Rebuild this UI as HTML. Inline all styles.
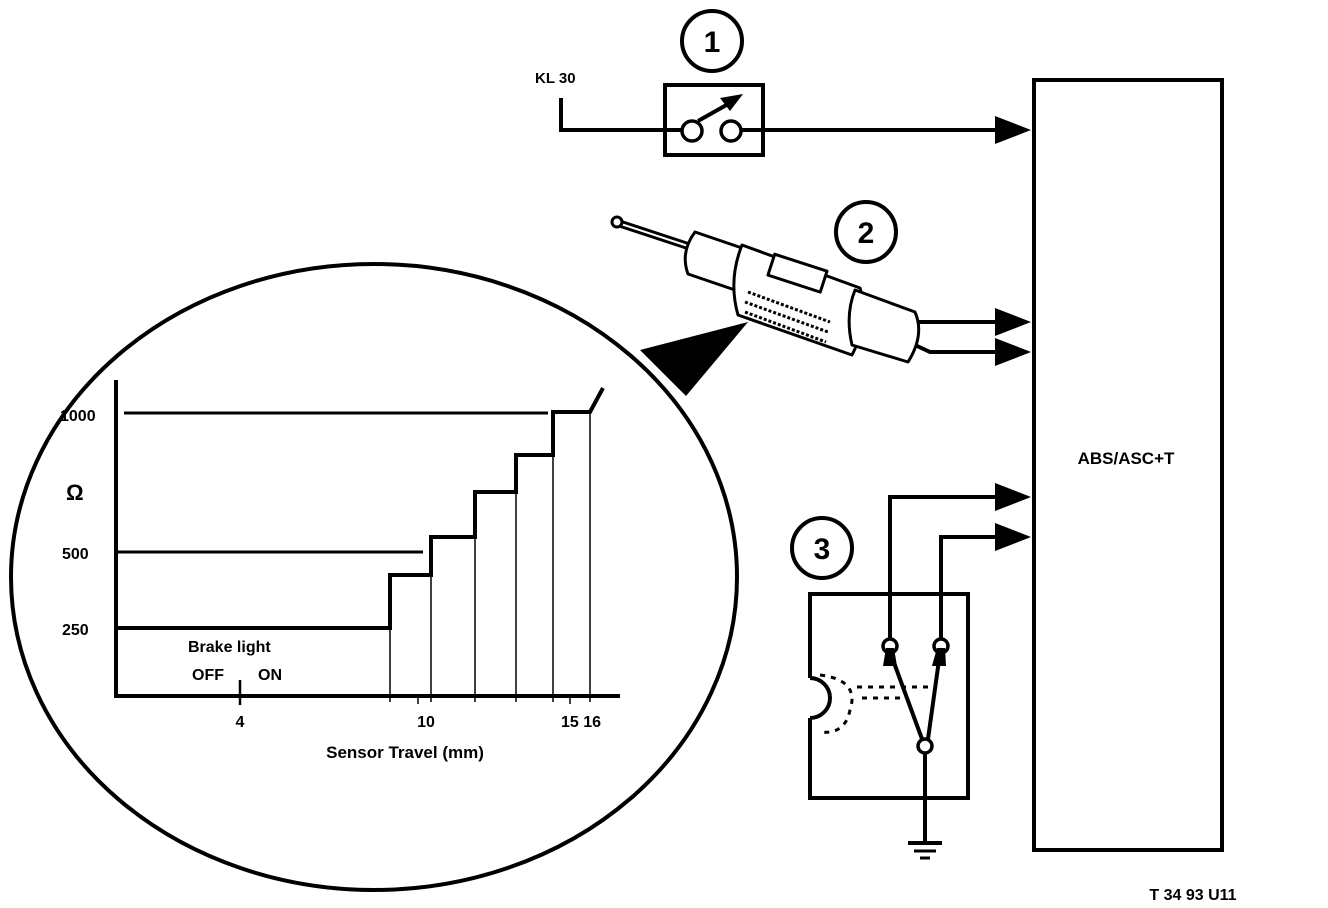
<!DOCTYPE html>
<html><head><style>body{margin:0;background:#fff}svg{display:block}text{font-family:"Liberation Sans",sans-serif;font-weight:bold;fill:#000}</style></head><body>
<svg width="1328" height="908" viewBox="0 0 1328 908" xmlns="http://www.w3.org/2000/svg">
<g fill="none" stroke="#000" stroke-width="4">
<rect x="1034" y="80" width="188" height="770"/>
<circle cx="712" cy="41" r="30"/>
<rect x="665" y="85" width="98" height="70"/>
<polyline points="561,98 561,130 682,130"/>
<line x1="741" y1="130" x2="1000" y2="130"/>
<circle cx="692" cy="131" r="10" stroke-width="3.5"/>
<circle cx="731" cy="131" r="10" stroke-width="3.5"/>
<line x1="698" y1="121" x2="730" y2="103"/>
<circle cx="866" cy="232" r="30"/>
<line x1="915" y1="322" x2="1000" y2="322"/>
<polyline points="915,345 930,352 1000,352"/>
<circle cx="822" cy="548" r="30"/>
<polyline points="890,640 890,497 1000,497"/>
<polyline points="941,640 941,537 1000,537"/>
<polyline points="810,678 810,594 968,594 968,798 810,798 810,718"/>
<path d="M810,678 A20,20 0 0 1 810,718" />
<circle cx="890" cy="646" r="7" stroke-width="3.5"/>
<circle cx="941" cy="646" r="7" stroke-width="3.5"/>
<circle cx="925" cy="746" r="7" stroke-width="3.5"/>
<line x1="922" y1="739" x2="893" y2="660"/>
<line x1="928" y1="739" x2="939" y2="660"/>
<line x1="925" y1="753" x2="925" y2="843"/>
<line x1="908" y1="843" x2="942" y2="843"/>
<line x1="914" y1="851" x2="936" y2="851" stroke-width="3"/>
<line x1="920" y1="858" x2="930" y2="858" stroke-width="3"/>
<ellipse cx="374" cy="577" rx="363" ry="313"/>
<polyline points="116,380 116,696 620,696"/>
<line x1="124" y1="413" x2="548" y2="413" stroke-width="3"/>
<line x1="116" y1="552" x2="423" y2="552" stroke-width="3"/>
<polyline points="116,628 390,628 390,575 431,575 431,537 475,537 475,492 516,492 516,455 553,455 553,412 590,412 603,388"/>
</g>
<g stroke="#000" stroke-width="1.5">
<line x1="390" y1="628" x2="390" y2="702"/><line x1="431" y1="575" x2="431" y2="702"/>
<line x1="475" y1="537" x2="475" y2="702"/><line x1="516" y1="492" x2="516" y2="702"/>
<line x1="553" y1="455" x2="553" y2="702"/><line x1="590" y1="412" x2="590" y2="702"/>
<line x1="418" y1="696" x2="418" y2="704"/><line x1="570" y1="696" x2="570" y2="704"/>
<line x1="240" y1="680" x2="240" y2="705" stroke-width="2.5"/>
</g>
<g fill="#000">
<polygon points="743,94 720,98 730,111"/>
<polygon points="995,116 1031,130 995,144"/>
<polygon points="995,308 1031,322 995,336"/>
<polygon points="995,338 1031,352 995,366"/>
<polygon points="995,483 1031,497 995,511"/>
<polygon points="995,523 1031,537 995,551"/>
<polygon points="640,350 748,322 686,396"/>
<polygon points="886,648 894,648 897,666 883,666"/>
<polygon points="937,648 945,648 946,666 932,666"/>
</g>
<g fill="none" stroke="#000" stroke-width="3" stroke-dasharray="5,6">
<path d="M820,675 Q860,680 850,710 Q845,735 820,732"/>
<line x1="857" y1="687" x2="935" y2="687"/>
<line x1="862" y1="698" x2="900" y2="698"/>
</g>
<g stroke="#000" stroke-width="3" fill="#fff" stroke-linejoin="round">
<line x1="615" y1="222" x2="700" y2="250" stroke-width="8"/>
<line x1="615" y1="222" x2="700" y2="250" stroke="#fff" stroke-width="2"/>
<circle cx="617" cy="222" r="5"/>
<path d="M695,232 L742,248 Q748,270 735,290 L688,274 Q680,252 695,232 Z"/>
<path d="M742,245 L860,288 Q870,320 852,355 L738,315 Q728,280 742,245 Z"/>
<path d="M855,290 L915,312 Q925,335 908,362 L852,345 Q845,315 855,290 Z"/>
<rect x="770" y="262" width="55" height="22" transform="rotate(18 797 273)"/>
<line x1="748" y1="292" x2="830" y2="322" stroke-dasharray="3,2"/>
<line x1="745" y1="302" x2="828" y2="332" stroke-dasharray="3,2"/>
<line x1="745" y1="312" x2="826" y2="342" stroke-dasharray="3,2"/>
</g>
<g font-size="15">
<text x="535" y="83" font-size="15">KL 30</text>
<text x="712" y="52" font-size="30" text-anchor="middle">1</text>
<text x="866" y="243" font-size="30" text-anchor="middle">2</text>
<text x="822" y="559" font-size="30" text-anchor="middle">3</text>
<text x="1126" y="464" font-size="17" text-anchor="middle">ABS/ASC+T</text>
<text x="1193" y="900" font-size="16" text-anchor="middle">T 34 93 U11</text>
<text x="60" y="421" font-size="16">1000</text>
<text x="66" y="500" font-size="22" font-weight="normal">Ω</text>
<text x="62" y="559" font-size="16">500</text>
<text x="62" y="635" font-size="16">250</text>
<text x="188" y="652" font-size="16" font-weight="normal">Brake light</text>
<text x="192" y="680" font-size="16" font-weight="normal">OFF</text>
<text x="258" y="680" font-size="16" font-weight="normal">ON</text>
<text x="240" y="727" font-size="16" text-anchor="middle" font-weight="normal">4</text>
<text x="426" y="727" font-size="16" text-anchor="middle" font-weight="normal">10</text>
<text x="561" y="727" font-size="16" font-weight="normal">15 16</text>
<text x="405" y="758" font-size="17" text-anchor="middle" font-weight="normal">Sensor Travel (mm)</text>
</g>
</svg>
</body></html>
